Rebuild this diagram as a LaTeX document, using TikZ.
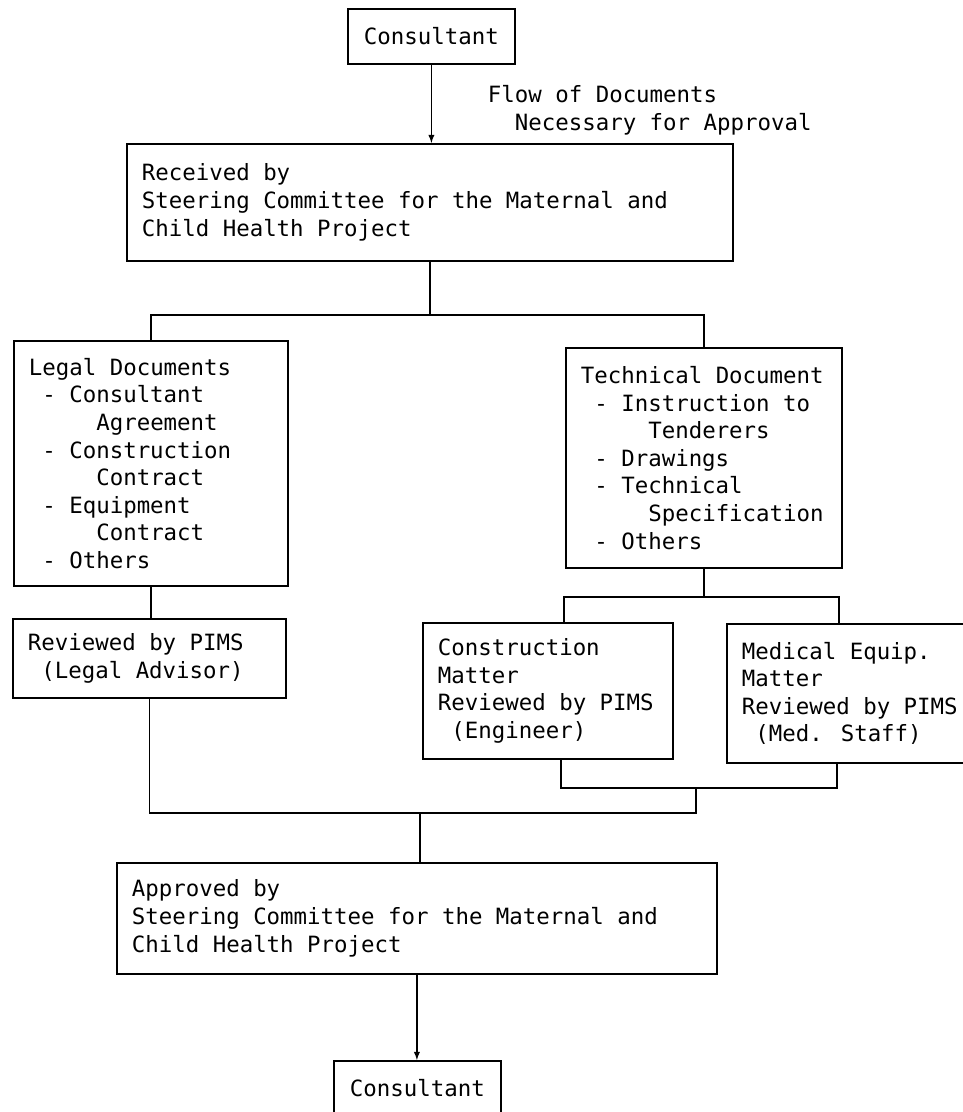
\documentclass[tikz,border=0pt]{standalone}
\usepackage{fontspec}
\usepackage{tikz}
\usetikzlibrary{arrows}
\newfontfamily\mono{DejaVu Sans Mono}
% typewriter text, one full cell per space
\newcommand\typed{\mono\fontsize{22.4pt}{27.6pt}\selectfont}

\begin{document}
\begin{tikzpicture}[x=1pt, y=-1pt, line width=1.8pt, >=latex,
        every node/.style={execute at begin node={\spaceskip=0.602em\relax}},
        box/.style={draw, anchor=north west, align=flush left, inner xsep=15pt, inner ysep=0pt, font=\typed}]
        \useasboundingbox (0,0) rectangle (963,1112);
        % top of the flow
        \node[box, align=flush center, text width=137pt, minimum height=55pt] (cons1) at (347,8) {Consultant};
        \node[font=\typed, anchor=west, align=flush left, inner sep=0pt] (flow) at (487,110)
            {Flow of Documents\\~~Necessary for Approval};
        \node[box, text width=576pt, minimum height=117pt] (recv) at (126,143)
            {Received by\\Steering Committee for the Maternal and\\Child Health Project};
        % the two kinds of documents
        \node[box, text width=244pt, minimum height=245pt] (legal) at (13,340)
            {Legal Documents\\~-~Consultant\\~~~~~Agreement\\~-~Construction\\~~~~~Contract\\~-~Equipment\\~~~~~Contract\\~-~Others};
        \node[box, text width=246pt, minimum height=220pt] (tech) at (565,347)
            {Technical Document\\~-~Instruction to\\~~~~~Tenderers\\~-~Drawings\\~-~Technical\\~~~~~Specification\\~-~Others};
        % reviews
        \node[box, text width=243pt, minimum height=79pt] (rev) at (12,618)
            {Reviewed by PIMS\\~(Legal Advisor)};
        \node[box, text width=220pt, minimum height=136pt] (constr) at (422,622)
            {Construction\\Matter\\Reviewed by PIMS\\~(Engineer)};
        \node[box, text width=222pt, minimum height=139pt] (med) at (726,623)
            {Medical Equip.\\Matter\\Reviewed by PIMS\\~(Med. Staff)};
        % end of the flow
        \node[box, text width=570pt, minimum height=111pt] (appr) at (116,862)
            {Approved by\\Steering Committee for the Maternal and\\Child Health Project};
        \node[box, align=flush center, text width=137pt, minimum height=55pt] (cons2) at (333,1060) {Consultant};

        \coordinate (lo) at (696,788);
        \coordinate (jn) at (420,813);

        \draw[->] (cons1.south) -- (cons1.south |- recv.north);
        \draw (recv.south) -- ++(0,53) -| (legal.north);
        \draw (recv.south) ++(0,53) -| (tech.north);
        \draw (legal.south) -- (legal.south |- rev.north);
        \draw (tech.south) -- ++(0,28) -| ([xshift=16pt]constr.north);
        \draw (tech.south) ++(0,28) -| ([xshift=-14pt]med.north);
        \draw ([xshift=13pt]constr.south) |- (lo) -| ([xshift=-16pt]med.south);
        \draw (lo) -- ++(0,25) -| (rev.south);
        \draw (jn) -- (jn |- appr.north);
        \draw[->] (appr.south) -- (appr.south |- cons2.north);
    \end{tikzpicture}
\end{document}
